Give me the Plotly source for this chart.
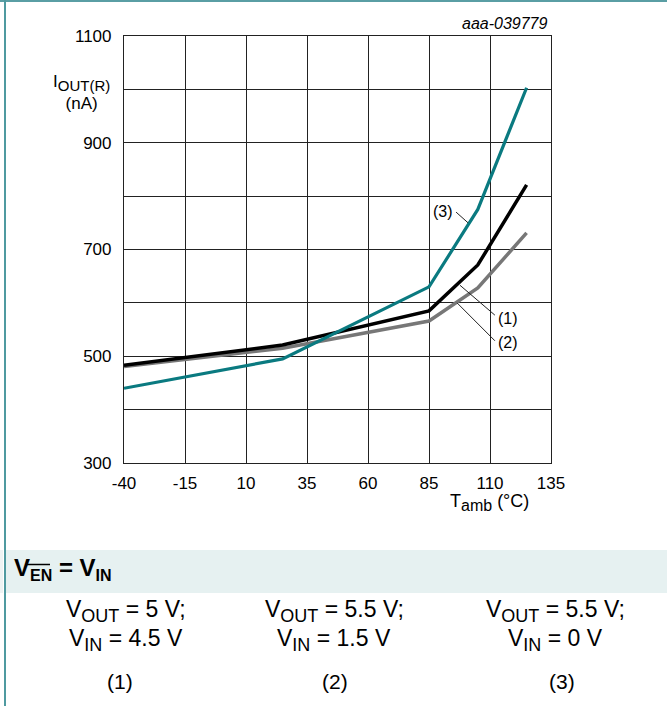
import plotly.graph_objects as go

# ---- data ----
temps = [-40, 25, 85, 105, 125]
iout_1 = [483, 521, 585, 671, 821]   # (1) VOUT=5V; VIN=4.5V  (black)
iout_2 = [481, 515, 566, 628, 731]   # (2) VOUT=5.5V; VIN=1.5V (gray)
iout_3 = [440, 495, 630, 775, 1003]  # (3) VOUT=5.5V; VIN=0V  (teal)

x_tick_vals = [-40, -15, 10, 35, 60, 85, 110, 135]
x_tick_text = ["-40", "-15", "10", "35", "60", "85", "110", "135"]
y_tick_vals = [300, 400, 500, 600, 700, 800, 900, 1000, 1100]
y_tick_text = ["300", "", "500", "", "700", "", "900", "", "1100"]

W, H = 667, 706
L, R, T, B = 124, 551, 36, 463
FONT = "Liberation Sans, Arial, sans-serif"


def px(x):
    return (x - L) / (R - L)


def py(y):
    return (B - y) / (B - T)


def sub(t, size):
    return "<sub><span style='font-size:%dpx'>%s</span></sub>" % (size, t)


fig = go.Figure()
fig.add_trace(go.Scatter(x=temps, y=iout_2, mode="lines",
                         line=dict(color="#777777", width=3.5), name="(2)"))
fig.add_trace(go.Scatter(x=temps, y=iout_1, mode="lines",
                         line=dict(color="#000000", width=3.5), name="(1)"))
fig.add_trace(go.Scatter(x=temps, y=iout_3, mode="lines",
                         line=dict(color="#0a7a80", width=3.2), name="(3)"))

shapes = []
annotations = []

# leader lines for curve labels (data coords)
leaders = [((96.1, 770), (101.0, 750)),
           ((97.7, 633), (112.0, 577)),
           ((96.5, 600), (112.0, 529))]
for (x0, y0), (x1, y1) in leaders:
    shapes.append(dict(type="line", xref="x", yref="y", x0=x0, y0=y0, x1=x1, y1=y1,
                       line=dict(color="#222222", width=1)))
for txt, xx, yy, xa in [("(3)", 95.5, 771, "right"), ("(1)", 112.3, 570, "left"),
                        ("(2)", 112.3, 526, "left")]:
    annotations.append(dict(text=txt, x=xx, y=yy, xref="x", yref="y", showarrow=False,
                            xanchor=xa, yanchor="middle",
                            font=dict(size=16, color="#000", family=FONT)))

# outer frame lines (teal)
shapes.append(dict(type="line", xref="paper", yref="paper", x0=px(0), x1=px(W),
                   y0=py(1), y1=py(1), line=dict(color="#5a9ea4", width=2)))
shapes.append(dict(type="line", xref="paper", yref="paper", x0=px(5), x1=px(5),
                   y0=py(0), y1=py(H), line=dict(color="#4f9aa0", width=2)))
# bottom band
shapes.append(dict(type="rect", xref="paper", yref="paper", x0=px(6), x1=px(W),
                   y0=py(593), y1=py(550), fillcolor="#e6f1f1", line=dict(width=0),
                   layer="below"))
shapes.append(dict(type="rect", xref="paper", yref="paper", x0=px(0), x1=px(3),
                   y0=py(593), y1=py(550), fillcolor="#eef3f3", line=dict(width=0),
                   layer="below"))
# overline for EN
shapes.append(dict(type="line", xref="paper", yref="paper", x0=px(27), x1=px(50),
                   y0=py(564.5), y1=py(564.5), line=dict(color="#000", width=1.5)))

annotations += [
    dict(text="<i>aaa-039779</i>", x=px(550), y=py(24), xref="paper", yref="paper",
         showarrow=False, xanchor="right", yanchor="middle",
         font=dict(size=16, color="#000", family=FONT)),
    dict(text="I" + sub("OUT(R)", 15) + "<br>(nA)", x=px(81), y=py(92), xref="paper",
         yref="paper", showarrow=False, xanchor="center", yanchor="middle",
         font=dict(size=17, color="#000", family=FONT)),
    dict(text="T" + sub("amb", 16) + " (°C)", x=px(448), y=py(502), xref="paper",
         yref="paper", showarrow=False, xanchor="left", yanchor="middle",
         font=dict(size=18, color="#000", family=FONT)),
    dict(text="<b>V" + sub("EN", 16) + " = V" + sub("IN", 16) + "</b>", x=px(12),
         y=py(569), xref="paper", yref="paper", showarrow=False, xanchor="left",
         yanchor="middle", font=dict(size=24, color="#000", family=FONT)),
]

conds = [("V" + sub("OUT", 18) + " = 5 V;", "V" + sub("IN", 18) + " = 4.5 V", "(1)", 126, 120),
         ("V" + sub("OUT", 18) + " = 5.5 V;", "V" + sub("IN", 18) + " = 1.5 V", "(2)", 334, 335),
         ("V" + sub("OUT", 18) + " = 5.5 V;", "V" + sub("IN", 18) + " = 0 V", "(3)", 555, 562)]
for l1, l2, lab, cx, lx in conds:
    for txt, yy, xx in [(l1, 610.5, cx), (l2, 640, cx), (lab, 681, lx)]:
        annotations.append(dict(text=txt, x=px(xx), y=py(yy), xref="paper", yref="paper",
                                showarrow=False, xanchor="center", yanchor="middle",
                                font=dict(size=23 if txt != lab else 21, color="#000",
                                          family=FONT)))

fig.update_layout(
    width=W, height=H,
    margin=dict(l=L, r=W - R, t=T, b=H - B),
    paper_bgcolor="white", plot_bgcolor="white",
    showlegend=False,
    shapes=shapes, annotations=annotations,
    font=dict(family=FONT, size=17, color="#000"),
)
fig.update_xaxes(range=[-40, 135], tickvals=x_tick_vals, ticktext=x_tick_text,
                 showgrid=True, gridcolor="#222222", gridwidth=1,
                 showline=True, linecolor="#222222", linewidth=1.2, mirror=True,
                 zeroline=False, ticks="", tickfont=dict(size=17), ticklabelstandoff=4)
fig.update_yaxes(range=[300, 1100], tickvals=y_tick_vals, ticktext=y_tick_text,
                 showgrid=True, gridcolor="#222222", gridwidth=1,
                 showline=True, linecolor="#222222", linewidth=1.2, mirror=True,
                 zeroline=False, ticks="", tickfont=dict(size=17), ticklabelstandoff=8)

fig.write_html("out.html", config={"displayModeBar": False},
               post_script="document.body.style.margin='0px';")
